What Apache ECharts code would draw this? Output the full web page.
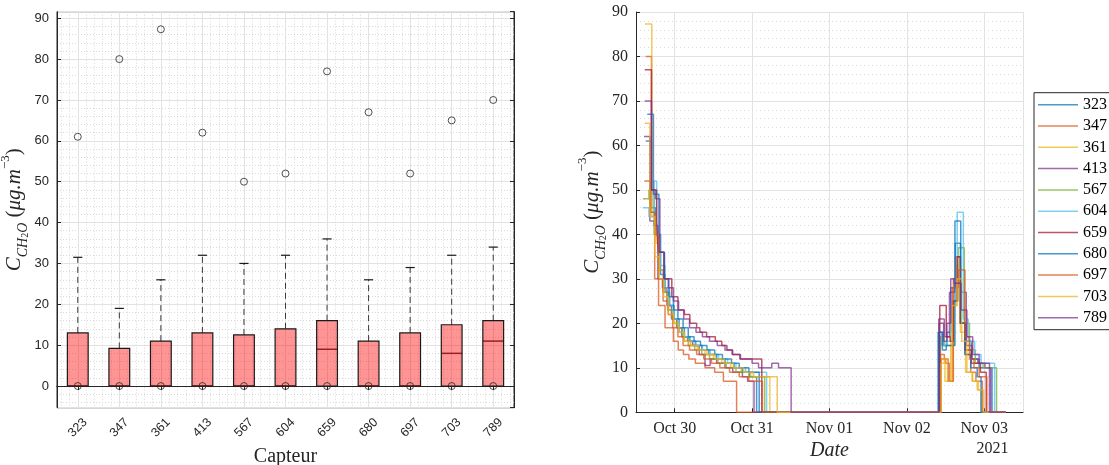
<!DOCTYPE html>
<html><head><meta charset="utf-8">
<script src="https://cdn.jsdelivr.net/npm/echarts@6/dist/echarts.min.js"></script>
<style>html,body{margin:0;padding:0;background:#fff}#c{width:1109px;height:465px}</style>
</head><body><div id="c"></div>
<script>
// ---------- Box plot data (left) ----------
const categories = ['323','347','361','413','567','604','659','680','697','703','789'];
const boxQ1 = [0,0,0,0,0,0,0,0,0,0,0];
const boxMedian = [0,0,0,0,0,0,9,0,0,8,11];
const boxQ3 = [13,9.2,11,13,12.5,14,16,11,13,15,16];
const boxWhiskerHigh = [31.5,19,26,32,30,32,36,26,29,32,34];
const boxOutlierHigh = [61,80,87.3,62,50,52,77,67,52,65,70];
const boxOutlierLow = [0,0,0,0,0,0,0,0,0,0,0];

// ---------- Time series (right): [hours since 29 Oct 2021 00:00, value] at change points ----------
const s323 = [[15.0,61],[16.8,46],[18.0,40],[19.6,31],[21.0,27],[22.4,24],[23.8,21],[25.4,19],[27.0,17],[28.6,16],[30.4,15],[32.4,14],[34.6,13],[37.0,12],[39.6,11],[42.4,10],[45.0,9],[47.2,8],[49.4,0],[106.0,18],[107.2,15],[108.4,18],[109.6,28],[111.0,38],[112.6,20],[114.2,16],[116.0,12],[118.4,10],[122.4,0],[126.6,0]];
const s347 = [[15.0,80],[16.8,45],[17.8,30],[19.0,24],[21.0,19],[23.6,16],[25.1,14],[26.7,13],[28.4,12],[30.4,11],[33.4,10],[36.4,9],[39.1,7],[43.2,0],[106.6,12],[108.0,11],[109.2,7],[110.4,30],[111.1,35],[112.5,20],[114.0,13],[115.8,9],[117.4,7],[119.4,0],[126.6,0]];
const s361 = [[14.8,87.3],[16.9,44],[18.2,38],[19.4,32],[20.8,27],[22.2,23],[23.8,20],[25.4,18],[27.0,16],[28.8,15],[31.0,14],[33.4,13],[36.0,12],[38.6,11],[41.4,10],[44.6,9],[47.6,8],[53.5,0],[106.2,12],[107.8,7],[109.6,24],[111.4,33],[112.6,18],[114.2,9],[116.2,7],[117.8,5],[119.0,0],[126.6,0]];
const s413 = [[14.5,62],[16.3,43],[17.6,42],[18.8,30],[20.2,28],[21.6,24],[23.0,21],[24.6,19],[26.2,17],[28.0,16],[29.6,15],[31.6,13],[33.4,10.5],[35.0,12],[37.0,11],[39.6,10],[42.0,9],[45.0,8],[46.6,7],[48.6,0],[105.9,21],[107.6,17],[109.2,27],[110.8,29],[112.8,27],[114.4,15],[116.2,12],[118.0,11],[120.2,10],[122.0,0],[126.6,0]];
const s567 = [[14.1,48],[16.0,50],[17.6,40],[19.0,32],[20.4,27],[21.8,23],[23.2,21],[24.8,19],[26.4,17],[28.2,15],[30.2,14],[32.4,13],[34.8,12],[37.4,11],[40.0,10],[43.0,9],[47.0,8],[51.9,0],[106.4,17],[107.6,15],[109.6,15],[110.6,25],[111.9,37],[113.8,20],[115.4,14],[117.2,11],[119.6,10],[123.8,0],[126.6,0]];
const s604 = [[14.1,46],[16.0,44],[17.6,52],[18.4,40],[19.6,33],[21.0,28],[22.4,24],[23.8,21],[25.4,18],[27.0,17],[28.8,16],[30.6,15],[32.6,14],[35.0,13],[37.6,12],[40.4,11],[43.0,10],[46.0,9],[52.5,0],[105.6,18],[106.8,15],[108.2,16],[109.6,25],[111.6,45],[113.5,21],[115.0,16],[117.0,13],[119.0,11],[123.2,0],[126.6,0]];
const s659 = [[14.7,77],[16.8,50],[18.4,43],[18.9,36],[20.8,30],[23.1,26],[25.0,23],[27.0,22],[28.7,20],[30.8,19],[31.8,18],[33.9,17],[36.6,16],[38.6,15],[40.2,14],[41.8,13],[44.2,12],[51.0,0],[106.2,24],[108.2,17],[109.4,16],[110.4,25],[111.6,35],[112.6,20],[114.0,14],[116.0,11],[118.8,9],[120.6,0],[126.6,0]];
const s680 = [[15.5,67],[17.4,49],[19.1,36],[20.8,30],[22.2,26],[23.6,23],[25.0,21],[26.6,19],[28.2,17],[30.0,16],[32.0,15],[34.0,14],[36.4,13],[38.8,12],[41.6,11],[44.0,10],[47.0,9],[50.2,0],[105.8,18],[107.0,14],[108.2,15],[110.9,43],[112.7,20],[114.0,13],[115.8,10],[117.8,8],[119.0,0],[126.6,0]];
const s697 = [[14.6,52],[16.4,45],[17.8,40],[19.0,30],[20.4,25],[22.0,22],[23.4,19],[25.0,17],[26.6,15],[28.6,14],[30.8,13],[33.0,12],[35.4,11],[38.0,10],[41.0,9],[44.0,8],[47.0,7],[51.2,0],[106.4,13],[107.6,12],[108.8,7],[110.2,28],[111.9,32],[114.0,17],[115.4,12],[116.8,10],[118.4,8],[120.8,0],[126.6,0]];
const s703 = [[14.7,65],[16.3,44],[17.8,35],[19.2,30],[20.6,26],[22.0,22],[23.6,20],[25.2,18],[27.0,16],[29.0,15],[31.4,14],[34.0,13],[36.6,12],[39.4,11],[42.2,10],[45.4,9],[48.5,8],[55.8,0],[106.6,11],[107.6,12],[108.6,7],[110.0,24],[111.6,30],[113.0,16],[114.6,9],[116.4,7],[118.2,5],[119.8,0],[126.6,0]];
const s789 = [[14.7,70],[16.8,50],[18.0,48],[19.4,36],[20.6,30],[22.0,28],[23.6,25],[25.2,23],[26.8,21],[28.6,19],[30.6,18],[32.6,17],[34.8,16],[37.2,15],[39.6,14],[42.0,13],[44.4,12],[48.0,11],[50.0,10],[54.1,11],[56.2,10],[60.1,0],[106.0,20],[107.4,16],[108.4,20],[109.6,30],[110.6,29],[112.8,23],[114.6,17],[116.4,13],[118.4,11],[121.6,0],[126.6,0]];
const sensorSeries = [s323,s347,s361,s413,s567,s604,s659,s680,s697,s703,s789];
const monthNames = ['Jan','Feb','Mar','Apr','May','Jun','Jul','Aug','Sep','Oct','Nov','Dec'];
const yearLabel = '2021';

const palette = ['#0072BD','#D95319','#EDB120','#7E2F8E','#77AC30','#4DBEEE','#A2142F','#0072BD','#D95319','#EDB120','#7E2F8E'];
const toTime = h => new Date(2021, 9, 29, 0, Math.round(h * 60)).getTime();

const SANS = '"Liberation Sans", Arial, sans-serif';
const SERIF = '"Liberation Serif", "Times New Roman", serif';
const INK = '#262626';
const GRID_MAJOR = '#e2e2e2';
const GRID_MINOR = '#d9d9d9';

function nameRich(base) {
  return {
    c: {fontFamily: SERIF, fontStyle: 'italic', fontSize: base, lineHeight: 32, verticalAlign: 'middle', color: INK},
    s: {fontFamily: SERIF, fontStyle: 'italic', fontSize: Math.round(base*0.66), lineHeight: 20, verticalAlign: 'bottom', color: INK},
    ss: {fontFamily: SERIF, fontSize: Math.round(base*0.48), lineHeight: 8, verticalAlign: 'bottom', color: INK},
    p: {fontFamily: SERIF, fontSize: base, lineHeight: 32, verticalAlign: 'middle', color: INK},
    m: {fontFamily: SERIF, fontStyle: 'italic', fontSize: base, lineHeight: 32, verticalAlign: 'middle', color: INK},
    sup: {fontFamily: SERIF, fontSize: Math.round(base*0.62), lineHeight: 19, verticalAlign: 'top', color: INK}
  };
}
const yName = '{c|C}{s|CH}{ss|2}{s|O}{p| (}{m|μg.m}{sup|−3}{p|)}';

const boxData = categories.map((c, i) => [i + 1, boxQ1[i], boxMedian[i], boxQ3[i], boxWhiskerHigh[i]]);
const highOut = categories.map((c, i) => [i + 1, boxOutlierHigh[i]]);
const lowOut = categories.map((c, i) => [i + 1, boxOutlierLow[i]]);

const lineSeries = sensorSeries.map((arr, k) => ({
  name: categories[k],
  type: 'line',
  xAxisIndex: 2, yAxisIndex: 2,
  step: 'end',
  symbol: 'none',
  showSymbol: false,
  color: palette[k],
  itemStyle: {color: palette[k]},
  lineStyle: {width: 1.5, opacity: 0.72, color: palette[k]},
  data: arr.map(p => [toTime(p[0]), p[1]]),
  z: 3
}));

const chart = echarts.init(document.getElementById('c'), null, {renderer: 'canvas'});
chart.setOption({
  animation: false,
  backgroundColor: '#fff',
  grid: [
    {left: 57, top: 11.7, width: 457, height: 396, containLabel: false, outerBoundsMode: 'none', show: true, borderColor: INK, borderWidth: 1, backgroundColor: 'transparent'},
    {left: 636, top: 12, width: 387, height: 400.3, containLabel: false, outerBoundsMode: 'none'}
  ],
  xAxis: [
    {gridIndex: 0, type: 'value', position: 'bottom', min: 0.5, max: 11.5, splitNumber: 11, minInterval: 1, maxInterval: 1,
      axisLine: {show: true, lineStyle: {color: INK, width: 1}},
      axisTick: {show: true, inside: false, length: 4, lineStyle: {color: INK}},
      minorTick: {show: false, splitNumber: 5},
      splitLine: {show: true, lineStyle: {color: GRID_MAJOR, width: 1}},
      minorSplitLine: {show: true, lineStyle: {color: GRID_MINOR, width: 1, type: [1, 2]}},
      axisLabel: {rotate: 45, margin: 20, align: 'center', verticalAlign: 'middle', fontFamily: SANS, fontSize: 12.5, color: INK,
        formatter: v => (Number.isInteger(v) && v >= 1 && v <= categories.length) ? categories[v - 1] : ''},
      name: 'Capteur', nameLocation: 'middle', nameGap: 34,
      nameTextStyle: {fontFamily: SERIF, fontSize: 20, color: INK}
    },
    {gridIndex: 0, type: 'value', position: 'top', min: 0.5, max: 11.5, splitNumber: 11, minInterval: 1, maxInterval: 1,
      axisLine: {show: true, lineStyle: {color: INK}},
      axisTick: {show: true, inside: true, length: 4, lineStyle: {color: INK}},
      axisLabel: {show: false}, splitLine: {show: false}
    },
    {gridIndex: 1, type: 'time', min: toTime(12), max: toTime(132), splitNumber: 5, minInterval: 86400000, maxInterval: 86400000,
      axisLine: {show: true, lineStyle: {color: INK, width: 1}},
      axisTick: {show: true, inside: true, length: 4, lineStyle: {color: INK}},
      splitLine: {show: true, lineStyle: {color: GRID_MAJOR, width: 1}},
      axisLabel: {margin: 8, fontFamily: SERIF, fontSize: 16, color: INK, hideOverlap: false,
        formatter: v => { const d = new Date(v); return monthNames[d.getMonth()] + ' ' + String(d.getDate()).padStart(2, '0'); }},
      name: 'Date', nameLocation: 'middle', nameGap: 26,
      nameTextStyle: {fontFamily: SERIF, fontStyle: 'italic', fontSize: 20, color: INK}
    }
  ],
  yAxis: [
    {gridIndex: 0, type: 'value', position: 'left', min: -5.3, max: 91.6, splitNumber: 10, minInterval: 10, maxInterval: 10,
      axisLine: {show: true, lineStyle: {color: INK}},
      axisTick: {show: true, inside: true, length: 4, lineStyle: {color: INK}},
      minorTick: {show: false, splitNumber: 5},
      splitLine: {show: true, lineStyle: {color: GRID_MAJOR, width: 1}},
      minorSplitLine: {show: true, lineStyle: {color: GRID_MINOR, width: 1, type: [1, 2]}},
      axisLabel: {margin: 8, fontFamily: SANS, fontSize: 13, color: INK, showMinLabel: false, showMaxLabel: false,
        formatter: v => (Math.abs(v % 10) < 1e-9) ? String(v) : ''},
      name: yName, nameLocation: 'middle', nameGap: 25,
      nameTextStyle: {rich: nameRich(21)}
    },
    {gridIndex: 0, type: 'value', position: 'right', min: -5.3, max: 91.6, splitNumber: 10, minInterval: 10, maxInterval: 10,
      axisLine: {show: true, lineStyle: {color: INK}},
      axisTick: {show: true, inside: true, length: 4, lineStyle: {color: INK}},
      axisLabel: {show: false}, splitLine: {show: false}
    },
    {gridIndex: 1, type: 'value', min: 0, max: 90, interval: 10,
      axisLine: {show: true, lineStyle: {color: INK, width: 1}},
      axisTick: {show: true, inside: true, length: 4, lineStyle: {color: INK}},
      minorTick: {show: false, splitNumber: 5},
      splitLine: {show: true, lineStyle: {color: GRID_MAJOR, width: 1}},
      minorSplitLine: {show: true, lineStyle: {color: GRID_MINOR, width: 1, type: [1, 3]}},
      axisLabel: {margin: 8, fontFamily: SERIF, fontSize: 16, color: INK},
      name: yName, nameLocation: 'middle', nameGap: 28,
      nameTextStyle: {rich: nameRich(21)}
    }
  ],
  legend: {
    data: categories.slice(),
    orient: 'vertical', left: 1034, top: 92.7,
    padding: [4, 8, 4, 4],
    icon: 'rect',
    itemWidth: 40, itemHeight: 1.5, itemGap: 5.3,
    itemStyle: {opacity: 0.72},
    borderColor: INK, borderWidth: 1, backgroundColor: '#fff',
    textStyle: {fontFamily: SERIF, fontSize: 16, lineHeight: 16, color: '#000'}
  },
  graphic: [
    {type: 'text', x: 992.5, y: 448.5, style: {text: yearLabel, font: '16px "Liberation Serif"', fill: INK, align: 'center', verticalAlign: 'middle'}}
  ],
  series: [
    {name: 'box', type: 'custom', xAxisIndex: 0, yAxisIndex: 0, data: boxData, encode: {x: 0, y: [1, 2, 3, 4]}, z: 3,
      renderItem: function (params, api) {
        const x = api.value(0);
        const unit = api.size([1, 0])[0];
        const half = unit * 0.25, cap = unit * 0.11;
        const pQ1 = api.coord([x, api.value(1)]);
        const pMed = api.coord([x, api.value(2)]);
        const pQ3 = api.coord([x, api.value(3)]);
        const pHi = api.coord([x, api.value(4)]);
        const rect = {x: pQ3[0] - half, y: pQ3[1], width: half * 2, height: pQ1[1] - pQ3[1]};
        return {type: 'group', children: [
          {type: 'line', shape: {x1: pQ3[0], y1: pQ3[1], x2: pHi[0], y2: pHi[1]}, style: {stroke: '#3a3a3a', lineWidth: 1, lineDash: [6, 4]}},
          {type: 'line', shape: {x1: pHi[0] - cap, y1: pHi[1], x2: pHi[0] + cap, y2: pHi[1]}, style: {stroke: '#1a1a1a', lineWidth: 1.2}},
          {type: 'rect', shape: rect, style: {fill: 'rgba(255,0,0,0.42)', stroke: null}},
          {type: 'line', shape: {x1: pMed[0] - half, y1: pMed[1], x2: pMed[0] + half, y2: pMed[1]}, style: {stroke: '#9a1f24', lineWidth: 1.5}},
          {type: 'rect', shape: rect, style: {fill: 'none', stroke: '#1a1a1a', lineWidth: 1.2}}
        ]};
      }
    },
    {name: 'outHigh', type: 'scatter', xAxisIndex: 0, yAxisIndex: 0, data: highOut, symbol: 'circle', symbolSize: 7, z: 4,
      itemStyle: {color: 'rgba(0,0,0,0)', borderColor: INK, borderWidth: 1}},
    {name: 'outLow', type: 'scatter', xAxisIndex: 0, yAxisIndex: 0, data: lowOut, symbol: 'circle', symbolSize: 7, z: 4,
      itemStyle: {color: 'rgba(0,0,0,0)', borderColor: INK, borderWidth: 1}}
  ].concat(lineSeries)
});
</script>
</body></html>
